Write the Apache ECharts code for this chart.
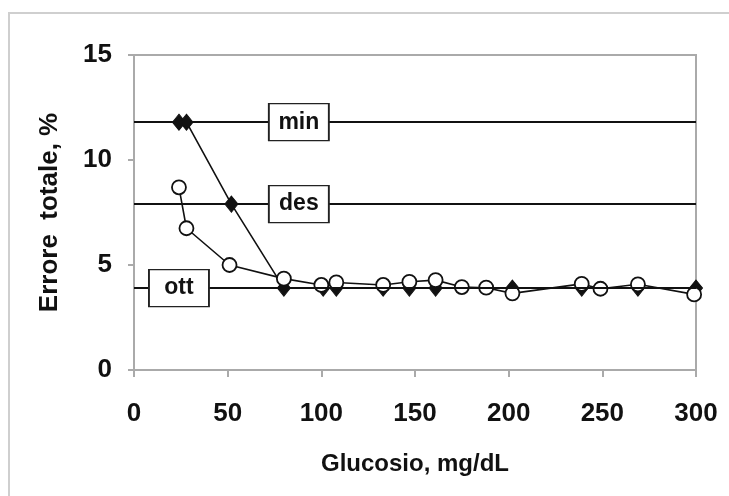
<!DOCTYPE html>
<html>
  <head>
    <meta charset="utf-8" />
    <script src="https://cdn.jsdelivr.net/npm/echarts@6/dist/echarts.min.js"></script>
    <style>
      html, body { margin: 0; padding: 0; background: #fff; }
      #main { width: 729px; height: 496px; }
    </style>
  </head>
  <body>
    <div id="main"></div>
    <script type="text/javascript">
      // glucose (mg/dL) vs total error (%)
      var diamondX = [24, 28, 52, 80, 101, 108, 133, 147, 161, 202, 239, 269, 300];
      var diamondY = [11.8, 11.8, 7.9, 3.9, 3.9, 3.9, 3.9, 3.9, 3.9, 3.9, 3.9, 3.9, 3.9];
      var circleX = [24, 28, 51, 80, 100, 108, 133, 147, 161, 175, 188, 202, 239, 249, 269, 299];
      var circleY = [8.7, 6.75, 5.0, 4.35, 4.05, 4.17, 4.05, 4.2, 4.28, 3.95, 3.92, 3.65, 4.1, 3.87, 4.08, 3.6];

      // performance goals: minimum, desirable, optimal
      var goalNames = ["min", "des", "ott"];
      var goalValues = [11.8, 7.9, 3.9];
      var goalLabelX = [88, 88, 24];

      var yTicks = [0, 5, 10, 15];
      var xTicks = [0, 50, 100, 150, 200, 250, 300];

      function pairs(xs, ys) {
        return xs.map(function (x, i) { return [x, ys[i]]; });
      }

      var myChart = echarts.init(document.getElementById("main"));

      var font = "Liberation Sans, Arial, sans-serif";

      var option = {
        animation: false,
        backgroundColor: "#fff",
        graphic: [
          {
            type: "rect",
            shape: { x: 9, y: 13, width: 740, height: 500 },
            style: { fill: "none", stroke: "#cfcfcf", lineWidth: 2 },
            silent: true
          }
        ],
        grid: { left: 134, right: 33, top: 55, bottom: 126, show: true, borderColor: "#aaa", borderWidth: 2 },
        xAxis: {
          type: "value",
          min: 0,
          max: 300,
          interval: 50,
          name: "Glucosio, mg/dL",
          nameLocation: "middle",
          nameGap: 82,
          nameTextStyle: { fontFamily: font, fontWeight: "bold", fontSize: 24, color: "#111" },
          axisLine: { show: true, lineStyle: { color: "#aaa", width: 2 } },
          axisTick: { show: true, length: 7, lineStyle: { color: "#aaa", width: 2 } },
          axisLabel: { margin: 31, fontFamily: font, fontWeight: "bold", fontSize: 26, color: "#111" },
          splitLine: { show: false }
        },
        yAxis: {
          type: "value",
          min: 0,
          max: 15,
          interval: 5,
          name: "Errore  totale, %",
          nameLocation: "middle",
          nameGap: 71,
          nameRotate: 90,
          nameTextStyle: { fontFamily: font, fontWeight: "bold", fontSize: 26, color: "#111" },
          axisLine: { show: true, lineStyle: { color: "#aaa", width: 2 } },
          axisTick: { show: true, length: 6, lineStyle: { color: "#aaa", width: 2 } },
          axisLabel: { margin: 22, fontFamily: font, fontWeight: "bold", fontSize: 26, color: "#111" },
          splitLine: { show: false }
        },
        series: [
          {
            name: "goals",
            type: "line",
            data: [],
            markLine: {
              silent: true,
              symbol: "none",
              label: { show: false },
              lineStyle: { color: "#111", width: 2, type: "solid" },
              data: goalValues.map(function (v) { return { yAxis: v }; })
            },
            markPoint: {
              silent: true,
              symbol: "rect",
              symbolSize: [60, 37],
              itemStyle: { color: "#fff", borderColor: "#222", borderWidth: 1.5 },
              label: {
                show: true,
                position: "inside",
                fontFamily: font,
                fontWeight: "bold",
                fontSize: 23,
                color: "#111"
              },
              data: goalNames.map(function (n, i) {
                return { name: n, coord: [goalLabelX[i], goalValues[i]], value: n };
              })
            },
            z: 1
          },
          {
            name: "A",
            type: "line",
            data: pairs(diamondX, diamondY),
            symbol: "diamond",
            symbolSize: [13, 16],
            showAllSymbol: true,
            lineStyle: { color: "#111", width: 1.6 },
            itemStyle: { color: "#111", borderColor: "#111", borderWidth: 1 },
            z: 3
          },
          {
            name: "B",
            type: "line",
            data: pairs(circleX, circleY),
            symbol: "circle",
            symbolSize: 14,
            showAllSymbol: true,
            lineStyle: { color: "#111", width: 1.6 },
            itemStyle: { color: "#fff", borderColor: "#111", borderWidth: 1.8 },
            z: 4
          }
        ]
      };

      myChart.setOption(option);
    </script>
  </body>
</html>
